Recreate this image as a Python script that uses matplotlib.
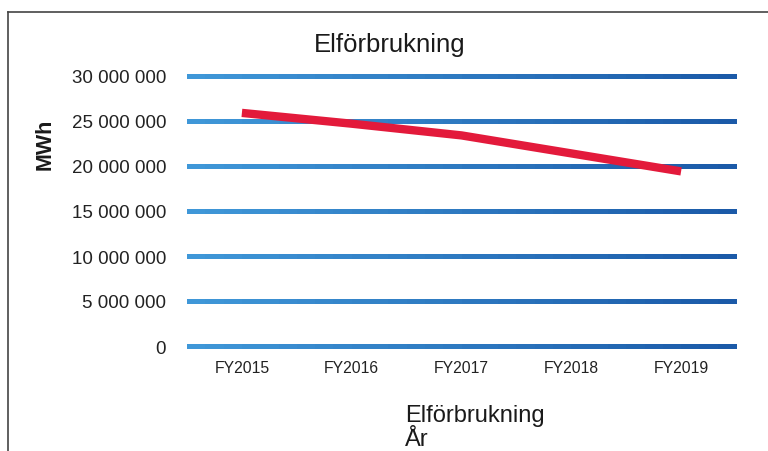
import numpy as np
import matplotlib
matplotlib.use("Agg")
import matplotlib.pyplot as plt
from matplotlib.collections import LineCollection
from matplotlib.colors import to_rgb
from matplotlib.lines import Line2D
from matplotlib.ticker import FuncFormatter

plt.rcParams['font.family'] = ['Liberation Sans', 'DejaVu Sans']

# Data
years = ['FY2015', 'FY2016', 'FY2017', 'FY2018', 'FY2019']
consumption = [25_900_000, 24_700_000, 23_400_000, 21_400_000, 19_400_000]
y_ticks = [0, 5_000_000, 10_000_000, 15_000_000, 20_000_000, 25_000_000, 30_000_000]

title = 'Elförbrukning'
y_label = 'MWh'
x_label = 'Elförbrukning'
x_sub_label = 'År'

# Figure
W, H = 768, 452
fig = plt.figure(figsize=(W / 100, H / 100), dpi=100)
ax = fig.add_axes([187 / W, 1 - 347 / H, (736 - 187) / W, (347 - 77) / H])

x = np.arange(len(years))
ax.set_xlim(-0.5, len(years) - 0.5)
ax.set_ylim(0, 30_000_000)

# Gradient gridlines (light blue -> darker blue)
c_left = np.array(to_rgb('#3f97d8'))
c_right = np.array(to_rgb('#1b5aa8'))
n_seg = 30
xs = np.linspace(-0.5, len(years) - 0.5, n_seg + 1)
for yt in y_ticks:
    segs = [[(xs[i], yt), (xs[i + 1], yt)] for i in range(n_seg)]
    cols = [c_left + (c_right - c_left) * (i / (n_seg - 1)) for i in range(n_seg)]
    lc = LineCollection(segs, colors=cols, linewidths=2.2, clip_on=False,
                        capstyle='butt', antialiased=False, zorder=1)
    ax.add_collection(lc)

# Consumption line
ax.plot(x, consumption, color='#e31a3b', linewidth=6, solid_capstyle='butt',
        zorder=3)

# Axes styling
for sp in ax.spines.values():
    sp.set_visible(False)
ax.set_yticks(y_ticks)
ax.yaxis.set_major_formatter(
    FuncFormatter(lambda v, p: '{:,.0f}'.format(v).replace(',', ' ')))
ax.set_xticks(x)
ax.set_xticklabels(years)
ax.tick_params(axis='y', length=0, pad=15, labelsize=13.5, labelcolor='#222222')
ax.tick_params(axis='x', length=0, pad=10, labelsize=11.3, labelcolor='#222222')

# Texts
fig.text(390 / W, 1 - 45 / H, title, ha='center', va='center', fontsize=18.5,
         color='#1a1a1a')
fig.text(45 / W, 1 - 144 / H, y_label, ha='center', va='center', rotation=90,
         fontsize=15.5, fontweight='bold', color='#1a1a1a')
fig.text(405 / W, 1 - 422 / H, x_label, ha='left', va='baseline', fontsize=17,
         color='#1a1a1a')
fig.text(405 / W, 1 - 446 / H, x_sub_label, ha='left', va='baseline',
         fontsize=17, color='#1a1a1a')

# Frame lines (top and left)
fig.add_artist(Line2D([8 / W, 1], [1 - 13 / H, 1 - 13 / H], color='#444444',
                      linewidth=1.2, transform=fig.transFigure))
fig.add_artist(Line2D([8 / W, 8 / W], [0, 1 - 13 / H], color='#444444',
                      linewidth=1.2, transform=fig.transFigure))

fig.savefig('out.png', dpi=100)
